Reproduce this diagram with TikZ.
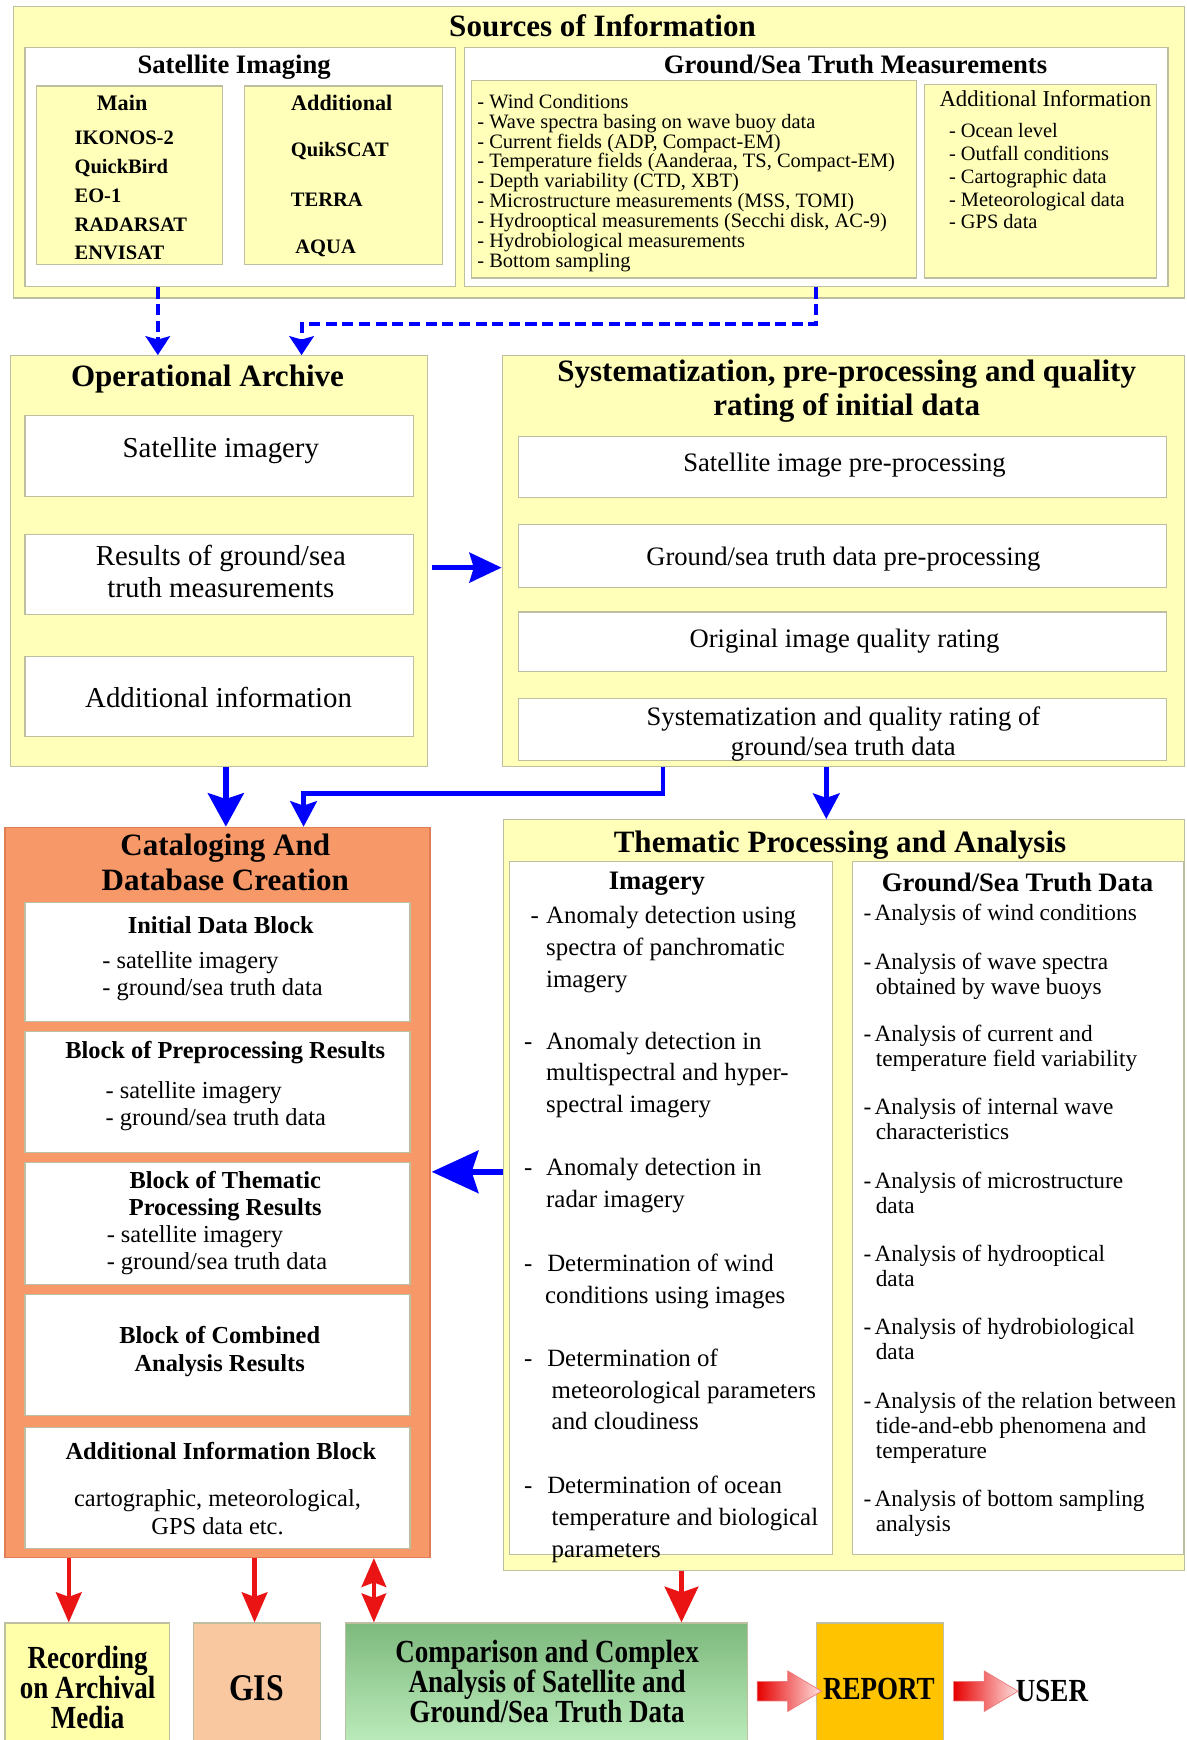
\documentclass[tikz,border=0pt]{standalone}
\usepackage{fontspec}
\setmainfont{Liberation Serif}
\newfontfamily\condfont[FakeStretch=0.84]{Liberation Serif}
\usetikzlibrary{shapes.arrows,calc,arrows.meta}
\lineskiplimit=-100pt
\newcommand\fs[2]{\fontsize{#1}{#2}\selectfont}
\definecolor{ylw}{RGB}{255,255,185}
\definecolor{bord}{RGB}{190,190,160}
\definecolor{org}{RGB}{247,152,104}
\definecolor{orgb}{RGB}{225,125,85}
\definecolor{bblue}{RGB}{0,0,255}
\definecolor{rred}{RGB}{235,20,20}
\definecolor{recc}{RGB}{255,255,170}
\definecolor{gisc}{RGB}{250,200,160}
\definecolor{gtop}{RGB}{125,185,125}
\definecolor{gbot}{RGB}{200,245,200}
\definecolor{repc}{RGB}{255,195,0}
\begin{document}
\begin{tikzpicture}[x=1pt,y=-1pt,
  box/.style={draw=bord, line width=1pt, inner sep=0pt, anchor=north west},
  ybox/.style={box, fill=ylw},
  wbox/.style={box, fill=white},
  obox/.style={box, fill=org, draw=orgb},
  tx/.style={inner sep=0pt, yshift=-2pt, execute at begin node=\strut, execute at end node=\strut},
  dasharr/.style={draw=bblue, line width=3.5pt, dash pattern=on 10pt off 5pt, -{Stealth[width=22pt,length=17pt,inset=3pt]}},
  barr/.style={draw=bblue, line width=4pt, -{Stealth[width=27pt,length=29pt,inset=4pt]}},
  bbig/.style={draw=bblue, line width=6pt, -{Stealth[width=32pt,length=30pt,inset=5pt]}},
  bmed/.style={draw=bblue, line width=4pt, -{Stealth[width=24pt,length=23pt,inset=4pt]}},
  bleft/.style={draw=bblue, line width=6pt, -{Stealth[width=38pt,length=42pt,inset=6pt]}},
  rarr/.style={draw=rred, line width=4pt, -{Stealth[width=23pt,length=27pt,inset=4pt]}},
  rdbl/.style={draw=rred, line width=4pt, {Stealth[width=22pt,length=26pt,inset=4pt]}-{Stealth[width=22pt,length=26pt,inset=4pt]}},
  rbig/.style={draw=rred, line width=5pt, -{Stealth[width=30pt,length=32pt,inset=5pt]}},
  fat/.style={single arrow, single arrow head extend=9.5pt, single arrow tip angle=62,
     minimum height=58pt, minimum width=36pt, inner xsep=0pt, inner ysep=8.5pt,
     left color={rgb,255:red,230;green,0;blue,0}, right color={rgb,255:red,255;green,225;blue,225},
     draw={rgb,255:red,235;green,120;blue,120}, line width=0.6pt},
  bt/.style={tx, font=\fs{#1}{#1}\bfseries},
  rt/.style={tx, font=\fs{#1}{#1}},
  ct/.style={tx, font=\condfont\bfseries\fs{#1}{27}, align=center}
]
\useasboundingbox (0,0) rectangle (1069,1568);
\fill[white] (0,0) rectangle (1069,1568);

% ---------- Sources of Information ----------
\node[ybox, minimum width=1055pt, minimum height=263pt] (src) at (12,5) {};
\node[bt=28] (tSrc) at (543,25) {Sources of Information};
\node[wbox, minimum width=388pt, minimum height=216pt] (sat) at (22,42) {};
\node[bt=24] (tSat) at (211,59) {Satellite Imaging};
\node[ybox, minimum width=168pt, minimum height=161pt] (mainb) at (32,77) {};
\node[bt=20] (tMain) at (110,94) {Main};
\node[tx, font=\fs{18.5}{26}\bfseries, align=left, anchor=west] (mainl) at (67,178)
  {IKONOS-2\\QuickBird\\EO-1\\RADARSAT\\ENVISAT};
\node[ybox, minimum width=178pt, minimum height=161pt] (addb) at (220,77) {};
\node[bt=20] (tAdd) at (308,94) {Additional};
\node[bt=18.5, anchor=west] (tQuik) at (262,135) {QuikSCAT};
\node[bt=18.5, anchor=west] (tTerra) at (262,180) {TERRA};
\node[bt=18.5, anchor=west] (tAqua) at (266,223) {AQUA};
\node[wbox, minimum width=634pt, minimum height=216pt] (gst) at (418,42) {};
\node[bt=24] (tGst) at (771,59) {Ground/Sea Truth Measurements};
\node[ybox, minimum width=401pt, minimum height=178pt] (glist) at (424,72) {};
\node[tx, font=\fs{18.4}{17.9}, align=left, anchor=west] (gl) at (430,163.5)
  {- Wind Conditions\\- Wave spectra basing on wave buoy data\\- Current fields (ADP, Compact-EM)\\- Temperature fields (Aanderaa, TS, Compact-EM)\\- Depth variability (CTD, XBT)\\- Microstructure measurements (MSS, TOMI)\\- Hydrooptical measurements (Secchi disk, AC-9)\\- Hydrobiological measurements\\- Bottom sampling};
\node[ybox, minimum width=209pt, minimum height=174pt] (ainfo) at (833,76) {};
\node[rt=20.5] (tAinfo) at (942,90) {Additional Information};
\node[tx, font=\fs{18.4}{20.5}, align=left, anchor=west] (al) at (855,160)
  {- Ocean level\\- Outfall conditions\\- Cartographic data\\- Meteorological data\\- GPS data};

% ---------- Operational Archive ----------
\node[ybox, minimum width=376pt, minimum height=370pt] (oa) at (9,320) {};
\node[bt=28] (tOa) at (187,341) {Operational Archive};
\node[wbox, minimum width=350pt, minimum height=73pt] (oa1) at (22,374) {};
\node[rt=26] (toa1) at (199,405) {Satellite imagery};
\node[wbox, minimum width=350pt, minimum height=72pt] (oa2) at (22,481) {};
\node[tx, font=\fs{26}{29}, align=center] (toa2) at (199,517.5) {Results of ground/sea\\truth measurements};
\node[wbox, minimum width=350pt, minimum height=72pt] (oa3) at (22,591) {};
\node[rt=26] (toa3) at (197,630) {Additional information};

% ---------- Systematization ----------
\node[ybox, minimum width=615pt, minimum height=370pt] (sys) at (452,320) {};
\node[tx, font=\fs{28}{30}\bfseries, align=center] (tSys) at (763,352)
  {Systematization, pre-processing and quality\\rating of initial data};
\node[wbox, minimum width=584pt, minimum height=55pt] (s1) at (467,393) {};
\node[rt=24] (ts1) at (761,418) {Satellite image pre-processing};
\node[wbox, minimum width=584pt, minimum height=57pt] (s2) at (467,472) {};
\node[rt=24] (ts2) at (760,503) {Ground/sea truth data pre-processing};
\node[wbox, minimum width=584pt, minimum height=54pt] (s3) at (467,551) {};
\node[rt=24] (ts3) at (761,577) {Original image quality rating};
\node[wbox, minimum width=584pt, minimum height=56pt] (s4) at (467,629) {};
\node[tx, font=\fs{24}{27}, align=center] (ts4) at (760,660.5) {Systematization and quality rating of\\ground/sea truth data};

% ---------- Cataloging ----------
\node[obox, minimum width=383pt, minimum height=658pt] (cat) at (4,745) {};
\node[tx, font=\fs{28}{31}\bfseries, align=center] (tCat) at (203,779.5) {Cataloging And\\Database Creation};
\node[wbox, minimum width=347pt, minimum height=107pt] (c1) at (22,813) {};
\node[bt=22] (tc1) at (199,835) {Initial Data Block};
\node[tx, font=\fs{22}{24}, align=left, anchor=west] (lc1) at (92,879) {- satellite imagery\\- ground/sea truth data};
\node[wbox, minimum width=347pt, minimum height=109pt] (c2) at (22,929) {};
\node[bt=22] (tc2) at (203,947) {Block of Preprocessing Results};
\node[tx, font=\fs{22}{24}, align=left, anchor=west] (lc2) at (95,996) {- satellite imagery\\- ground/sea truth data};
\node[wbox, minimum width=347pt, minimum height=110pt] (c3) at (22,1047) {};
\node[tx, font=\fs{22}{24}\bfseries, align=center] (tc3) at (203,1077) {Block of Thematic\\Processing Results};
\node[tx, font=\fs{22}{24}, align=left, anchor=west] (lc3) at (96,1126) {- satellite imagery\\- ground/sea truth data};
\node[wbox, minimum width=347pt, minimum height=109pt] (c4) at (22,1166) {};
\node[tx, font=\fs{22}{25}\bfseries, align=center] (tc4) at (198,1217.5) {Block of Combined\\Analysis Results};
\node[wbox, minimum width=347pt, minimum height=109pt] (c5) at (22,1286) {};
\node[bt=22] (tc5) at (199,1309) {Additional Information Block};
\node[tx, font=\fs{22}{25}, align=center] (lc5) at (196,1364.5) {cartographic, meteorological,\\GPS data etc.};

% ---------- Thematic ----------
\node[ybox, minimum width=614pt, minimum height=677pt] (th) at (453,738) {};
\node[bt=28] (tTh) at (757,761) {Thematic Processing and Analysis};
\node[wbox, minimum width=291pt, minimum height=624pt] (img) at (459,776) {};
\node[bt=24] (tImg) at (592,795) {Imagery};
\node[tx, font=\fs{22.4}{28.5}, align=left, anchor=west] (i1) at (472,855.5)
  {\hspace*{6pt}\makebox[14pt][l]{-}Anomaly detection using\\\hspace*{20pt}spectra of panchromatic\\\hspace*{20pt}imagery};
\node[tx, font=\fs{22.4}{28.5}, align=left, anchor=west] (i2) at (472,968.5)
  {\makebox[20pt][l]{-}Anomaly detection in\\\hspace*{20pt}multispectral and hyper-\\\hspace*{20pt}spectral imagery};
\node[tx, font=\fs{22.4}{28.5}, align=left, anchor=west] (i3) at (472,1068)
  {\makebox[20pt][l]{-}Anomaly detection in\\\hspace*{20pt}radar imagery};
\node[tx, font=\fs{22.4}{28.5}, align=left, anchor=west] (i4) at (472,1154.5)
  {\makebox[21pt][l]{-}Determination of wind\\\hspace*{19pt}conditions using images};
\node[tx, font=\fs{22.4}{28.5}, align=left, anchor=west] (i5) at (472,1254.5)
  {\makebox[21pt][l]{-}Determination of\\\hspace*{25pt}meteorological parameters\\\hspace*{25pt}and cloudiness};
\node[tx, font=\fs{22.4}{28.5}, align=left, anchor=west] (i6) at (472,1369)
  {\makebox[21pt][l]{-}Determination of ocean\\\hspace*{25pt}temperature and biological\\\hspace*{25pt}parameters};
\node[wbox, minimum width=298pt, minimum height=624pt] (gsd) at (768,776) {};
\node[bt=24] (tGsd) at (917,797) {Ground/Sea Truth Data};
\node[tx, font=\fs{21}{22.5}, align=left, anchor=west] (g1) at (778,823)
  {\makebox[10pt][l]{-}Analysis of wind conditions};
\node[tx, font=\fs{21}{22.5}, align=left, anchor=west] (g2) at (778,879)
  {\makebox[10pt][l]{-}Analysis of wave spectra\\\hspace*{11pt}obtained by wave buoys};
\node[tx, font=\fs{21}{22.5}, align=left, anchor=west] (g3) at (778,944)
  {\makebox[10pt][l]{-}Analysis of current and\\\hspace*{11pt}temperature field variability};
\node[tx, font=\fs{21}{22.5}, align=left, anchor=west] (g4) at (778,1010)
  {\makebox[10pt][l]{-}Analysis of internal wave\\\hspace*{11pt}characteristics};
\node[tx, font=\fs{21}{22.5}, align=left, anchor=west] (g5) at (778,1076)
  {\makebox[10pt][l]{-}Analysis of microstructure\\\hspace*{11pt}data};
\node[tx, font=\fs{21}{22.5}, align=left, anchor=west] (g6) at (778,1142)
  {\makebox[10pt][l]{-}Analysis of hydrooptical\\\hspace*{11pt}data};
\node[tx, font=\fs{21}{22.5}, align=left, anchor=west] (g7) at (778,1208)
  {\makebox[10pt][l]{-}Analysis of hydrobiological\\\hspace*{11pt}data};
\node[tx, font=\fs{21}{22.5}, align=left, anchor=west] (g8) at (778,1285.5)
  {\makebox[10pt][l]{-}Analysis of the relation between\\\hspace*{11pt}tide-and-ebb phenomena and\\\hspace*{11pt}temperature};
\node[tx, font=\fs{21}{22.5}, align=left, anchor=west] (g9) at (778,1363)
  {\makebox[10pt][l]{-}Analysis of bottom sampling\\\hspace*{11pt}analysis};

% ---------- bottom row ----------
\node[box, fill=recc, minimum width=148pt, minimum height=130pt] (rec) at (4,1462) {};
\node[ct=29] (trec) at (79,1522.5) {Recording\\on Archival\\Media};
\node[box, fill=gisc, minimum width=114pt, minimum height=130pt] (gis) at (174,1462) {};
\node[ct=34] (tgis) at (231,1523) {GIS};
\node[box, top color=gtop, bottom color=gbot, minimum width=362pt, minimum height=130pt] (cmp) at (311,1462) {};
\node[ct=29] (tcmp) at (493,1517) {Comparison and Complex\\Analysis of Satellite and\\Ground/Sea Truth Data};
\node[box, fill=repc, minimum width=115pt, minimum height=130pt] (rep) at (735,1462) {};
\node[ct=29] (trep) at (792,1524) {REPORT};
\node[ct=29] (user) at (948,1526) {USER};
\node[fat] (fa1) at (704,1524) {};
\node[fat] (fa2) at (881,1524) {};

% ---------- connectors ----------
\coordinate (a1) at ($(sat.south west)!0.309!(sat.south east)$);
\draw[dasharr] (a1) -- (a1 |- oa.north);
\coordinate (a2) at ($(oa.north west)!0.697!(oa.north east)$);
\draw[dasharr] (gst.south) -- ++(0,33) -| (a2);
\draw[barr, shorten <=3pt] ([yshift=-6pt]oa.east) -- ([yshift=-6pt]sys.west);
\coordinate (a3) at ($(oa.south west)!0.516!(oa.south east)$);
\draw[bbig] (a3) -- (a3 |- cat.north);
\coordinate (a4) at ($(sys.south west)!0.236!(sys.south east)$);
\coordinate (a5) at ($(cat.north west)!0.702!(cat.north east)$);
\draw[bmed] (a4) -- ++(0,24) -| (a5);
\coordinate (a6) at ($(sys.south west)!0.475!(sys.south east)$);
\draw[bmed] (a6) -- (a6 |- th.north);
\coordinate (a7) at ([yshift=21pt]th.west);
\draw[bleft, shorten >=1pt] (a7) -- (a7 -| cat.east);
\coordinate (r1) at ($(cat.south west)!0.151!(cat.south east)$);
\draw[rarr] (r1) -- (r1 |- rec.north);
\coordinate (r2) at ($(cat.south west)!0.587!(cat.south east)$);
\draw[rarr] (r2) -- (r2 |- gis.north);
\coordinate (r3) at ($(cat.south west)!0.867!(cat.south east)$);
\draw[rdbl] (r3) -- (r3 |- cmp.north);
\coordinate (r4) at ($(th.south west)!0.262!(th.south east)$);
\draw[rbig] (r4) -- (r4 |- cmp.north);
\end{tikzpicture}
\end{document}
